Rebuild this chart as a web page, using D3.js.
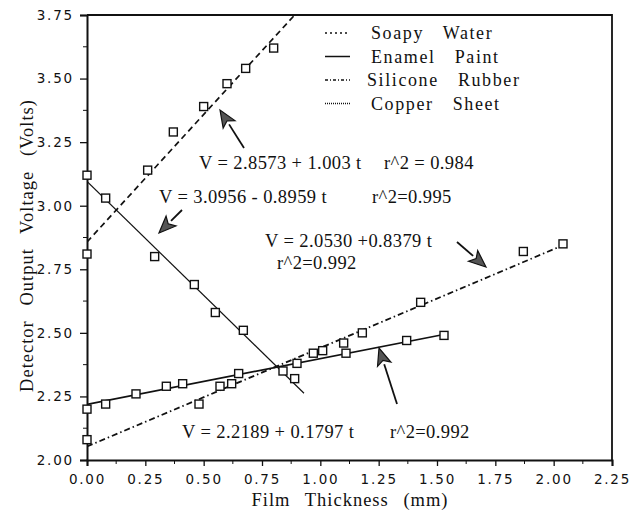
<!DOCTYPE html>
<html>
<head>
<meta charset="utf-8">
<script src="https://d3js.org/d3.v7.min.js"></script>
<style>
  body { margin: 0; background: #fff; }
  text { fill: #111; }
</style>
</head>
<body>
<script>
// detector voltage vs film thickness, 4 coatings

var width = 634,
	height = 516;

var margin = {top: 15, right: 22, bottom: 56, left: 87};

// ## data
var soapyT = [0.00, 0.26, 0.37, 0.50, 0.60, 0.68, 0.80];
var soapyV = [2.81, 3.14, 3.29, 3.39, 3.48, 3.54, 3.62];

var enamelT = [0.00, 0.08, 0.29, 0.46, 0.55, 0.67, 0.84, 0.89];
var enamelV = [3.12, 3.03, 2.80, 2.69, 2.58, 2.51, 2.35, 2.32];

var siliconeT = [0.00, 0.48, 0.57, 0.62, 0.90, 1.10, 1.18, 1.43, 1.87, 2.04];
var siliconeV = [2.08, 2.22, 2.29, 2.30, 2.38, 2.46, 2.50, 2.62, 2.82, 2.85];

var copperT = [0.00, 0.08, 0.21, 0.34, 0.41, 0.65, 0.97, 1.01, 1.11, 1.37, 1.53];
var copperV = [2.20, 2.22, 2.26, 2.29, 2.30, 2.34, 2.42, 2.43, 2.42, 2.47, 2.49];

// fitted lines: intercept, slope, last t
var seriesNames = ['Soapy Water', 'Enamel Paint', 'Silicone Rubber', 'Copper Sheet'];
var fitA = [2.8573, 3.0956, 2.0530, 2.2189];
var fitB = [1.003, -0.8959, 0.3879, 0.1797];
var fitEnd = [0.90, 0.93, 2.04, 1.54];

var xTicks = [0, 0.25, 0.5, 0.75, 1, 1.25, 1.5, 1.75, 2, 2.25];
var yTicks = [2, 2.25, 2.5, 2.75, 3, 3.25, 3.5, 3.75];

// equation labels as printed
var eqLabels = [
	'V = 2.8573 + 1.003 t', 'r^2 = 0.984',
	'V = 3.0956 - 0.8959 t', 'r^2=0.995',
	'V = 2.0530 +0.8379 t', 'r^2=0.992',
	'V = 2.2189 + 0.1797 t', 'r^2=0.992'
];

var x = d3.scaleLinear()
	.domain([0, 2.25])
	.range([margin.left, width - margin.right]);

var y = d3.scaleLinear()
	.domain([2, 3.75])
	.range([height - margin.bottom, margin.top]);

var svg = d3.select('body')
	.append('svg')
	.attr('width', width)
	.attr('height', height);

svg.append('defs').append('clipPath')
	.attr('id', 'plot')
	.append('rect')
	.attr('x', x(0)).attr('y', y(3.75))
	.attr('width', x(2.25) - x(0)).attr('height', y(2) - y(3.75));

var serif = '"Liberation Serif", "DejaVu Serif", serif';
var sans = '"DejaVu Sans", sans-serif';

// frame (top + right)
svg.append('path')
	.attr('d', 'M' + x(0) + ',' + y(3.75) + 'H' + x(2.25) + 'V' + y(2))
	.attr('fill', 'none')
	.attr('stroke', '#111')
	.attr('stroke-width', 1.8);

// axes
var minorX = d3.range(0.125, 2.25, 0.25);
var minorY = d3.range(2.125, 3.75, 0.25);

var xAxis = svg.append('g')
	.attr('transform', 'translate(0,' + y(2) + ')')
	.call(d3.axisBottom(x).tickValues(xTicks).tickFormat(d3.format('.2f')).tickSize(6).tickPadding(8));

xAxis.selectAll('line.minor').data(minorX)
	.enter().append('line')
	.attr('class', 'minor')
	.attr('x1', function(d) { return x(d); })
	.attr('x2', function(d) { return x(d); })
	.attr('y2', 4)
	.attr('stroke', '#111');

var yAxis = svg.append('g')
	.attr('transform', 'translate(' + x(0) + ',0)')
	.call(d3.axisLeft(y).tickValues(yTicks).tickFormat(d3.format('.2f')).tickSize(7).tickPadding(6));

yAxis.selectAll('line.minor').data(minorY)
	.enter().append('line')
	.attr('class', 'minor')
	.attr('y1', function(d) { return y(d); })
	.attr('y2', function(d) { return y(d); })
	.attr('x2', -4)
	.attr('stroke', '#111');

svg.selectAll('.domain').attr('stroke-width', 2).attr('stroke', '#111');
svg.selectAll('.tick line').attr('stroke', '#111').attr('stroke-width', 1.3);
svg.selectAll('.tick text')
	.style('font-family', sans)
	.style('font-size', '13.5px')
	.style('letter-spacing', '1.8px')
	.attr('fill', '#111');

// axis titles
svg.append('text')
	.attr('x', 350)
	.attr('y', 506)
	.attr('text-anchor', 'middle')
	.style('font-family', serif)
	.style('font-size', '18.5px')
	.style('letter-spacing', '1px')
	.style('word-spacing', '9px')
	.text('Film Thickness (mm)');

svg.append('text')
	.attr('transform', 'translate(33,' + ((y(2) + y(3.75)) / 2 + 8) + ') rotate(-90)')
	.attr('text-anchor', 'middle')
	.style('font-family', serif)
	.style('font-size', '18.5px')
	.style('letter-spacing', '1px')
	.style('word-spacing', '9px')
	.text('Detector Output Voltage (Volts)');

// fit lines
var dashes = ['6,4', null, '6,3,1.5,3', null];
var widths = [1.7, 1.2, 1.8, 1.7];

var fits = svg.append('g').attr('clip-path', 'url(#plot)');
fits.selectAll('line')
	.data(seriesNames)
	.enter().append('line')
	.attr('x1', x(0))
	.attr('y1', function(d, i) { return y(fitA[i]); })
	.attr('x2', function(d, i) { return x(fitEnd[i]); })
	.attr('y2', function(d, i) { return y(fitA[i] + fitB[i] * fitEnd[i]); })
	.attr('stroke', '#111')
	.attr('stroke-width', function(d, i) { return widths[i]; })
	.attr('stroke-dasharray', function(d, i) { return dashes[i]; });

// points
var points = [];
[[soapyT, soapyV], [enamelT, enamelV], [siliconeT, siliconeV], [copperT, copperV]].forEach(function(s) {
	s[0].forEach(function(t, j) { points.push([t, s[1][j]]); });
});

svg.append('g').selectAll('rect')
	.data(points)
	.enter().append('rect')
	.attr('x', function(d) { return x(d[0]) - 4; })
	.attr('y', function(d) { return y(d[1]) - 4; })
	.attr('width', 8)
	.attr('height', 8)
	.attr('fill', '#fff')
	.attr('stroke', '#111')
	.attr('stroke-width', 1.4);

// legend
var legDash = ['2,3', null, '3,2,1,2', '1,1'];
var leg = svg.append('g');
var legRow = leg.selectAll('g')
	.data(seriesNames)
	.enter().append('g')
	.attr('transform', function(d, i) { return 'translate(325,' + (33 + i * 23.5) + ')'; });

legRow.append('line')
	.attr('x1', 0).attr('x2', 25)
	.attr('stroke', '#111')
	.attr('stroke-width', 1.5)
	.attr('stroke-dasharray', function(d, i) { return legDash[i]; });

legRow.append('text')
	.attr('x', function(d, i) { return i === 2 ? 42 : 46; })
	.attr('y', 6)
	.style('font-family', serif)
	.style('font-size', '18px')
	.style('letter-spacing', '1.6px')
	.style('word-spacing', '13px')
	.text(function(d) { return d; });

// equation annotations
var eqPos = [[199, 169], [384, 169], [159, 203], [372, 203], [265, 247], [277, 269], [182, 438], [390, 438]];
svg.append('g').selectAll('text')
	.data(eqLabels)
	.enter().append('text')
	.attr('x', function(d, i) { return eqPos[i][0]; })
	.attr('y', function(d, i) { return eqPos[i][1]; })
	.style('font-family', serif)
	.style('font-size', '18.5px')
	.style('letter-spacing', '0.4px')
	.text(function(d) { return d; });

// arrows (tail -> tip)
var arrows = [[244, 148, 220, 110], [182, 210, 159, 233], [457, 242, 486, 267], [397, 404, 379, 348]];

arrows.forEach(function(a) {
	var ang = Math.atan2(a[3] - a[1], a[2] - a[0]),
		len = 17, half = 7;
	var bx = a[2] - len * Math.cos(ang),
		by = a[3] - len * Math.sin(ang);
	svg.append('line')
		.attr('x1', a[0]).attr('y1', a[1])
		.attr('x2', bx).attr('y2', by)
		.attr('stroke', '#111')
		.attr('stroke-width', 1.8);
	svg.append('path')
		.attr('d', 'M' + a[2] + ',' + a[3] +
			'L' + (bx + half * Math.sin(ang)) + ',' + (by - half * Math.cos(ang)) +
			'L' + (bx + 4 * Math.cos(ang)) + ',' + (by + 4 * Math.sin(ang)) +
			'L' + (bx - half * Math.sin(ang)) + ',' + (by + half * Math.cos(ang)) + 'Z')
		.attr('fill', '#555')
		.attr('stroke', '#111')
		.attr('stroke-width', 1.2);
});
</script>
</body>
</html>
